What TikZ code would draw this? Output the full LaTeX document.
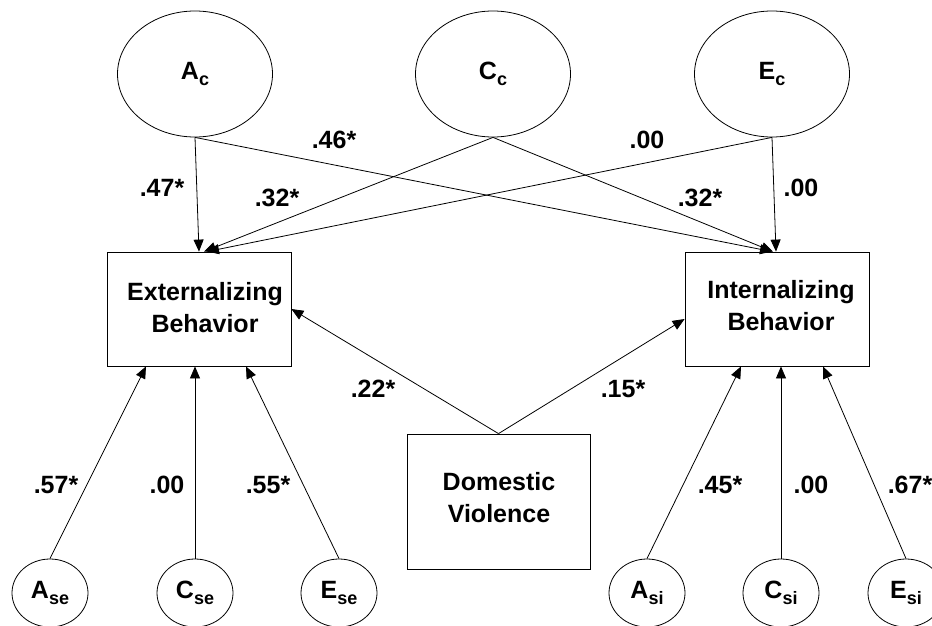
\documentclass[tikz,border=0pt]{standalone}
\usepackage{fontspec}
\setmainfont{Liberation Sans}
\usetikzlibrary{arrows.meta,shapes.geometric}
\newcommand{\lsub}[2]{#1{\fontsize{18}{18}\selectfont\raisebox{-6pt}{#2}}}
\tikzset{
  lat/.style={draw, ellipse, line width=0.8pt, inner sep=0pt, minimum width=155pt, minimum height=126pt, font=\fontsize{25}{25}\selectfont\bfseries},
  res/.style={draw, ellipse, line width=0.8pt, inner sep=0pt, minimum width=76pt, minimum height=68pt, font=\fontsize{25}{25}\selectfont\bfseries},
  obs/.style={draw, rectangle, line width=0.8pt, inner sep=0pt},
  boxtext/.style={inner sep=0pt, align=center, font=\fontsize{25}{32}\selectfont\bfseries},
  path/.style={draw, line width=0.8pt, -{Triangle[length=12pt,width=10pt]}},
  lbl/.style={font=\fontsize{25}{25}\selectfont\bfseries, inner sep=0pt}
}
\begin{document}
\begin{tikzpicture}[x=1pt,y=-1pt]
\useasboundingbox (0,0) rectangle (932,626);
\node[lat] (Ac) at (195,74) {\lsub{A}{c}};
\node[lat] (Cc) at (493,74) {\lsub{C}{c}};
\node[lat] (Ec) at (772,74) {\lsub{E}{c}};
\node[obs, minimum width=184pt, minimum height=114pt] (ext) at (199,309) {};
\node[boxtext] (extt) at (205,308) {Externalizing\\Behavior};
\node[obs, minimum width=184pt, minimum height=114pt] (int) at (777,309) {};
\node[boxtext] (intt) at (781,306) {Internalizing\\Behavior};
\node[obs, minimum width=183pt, minimum height=135pt] (dv) at (498.5,501.5) {};
\node[boxtext] (dvt) at (499,498) {Domestic\\Violence};
\node[res] (ase) at (50,593) {\lsub{A}{se}};
\node[res] (cse) at (195,593) {\lsub{C}{se}};
\node[res] (ese) at (339,593) {\lsub{E}{se}};
\node[res] (asi) at (647,593) {\lsub{A}{si}};
\node[res] (csi) at (781,593) {\lsub{C}{si}};
\node[res] (esi) at (906,593) {\lsub{E}{si}};
% top paths
\path[path] (Ac.south) -- (ext.north);
\path[path] (Cc.south) -- ([xshift=5pt]ext.north);
\path[path] (Ec.south) -- ([xshift=8pt]ext.north);
\path[path] (Ac.south) -- ([xshift=-5pt]int.north);
\path[path] (Cc.south) -- ([xshift=-4pt]int.north);
\path[path] (Ec.south) -- ([xshift=-1pt]int.north);
% domestic violence
\path[path] (dv.north) -- (ext.east);
\path[path] (dv.north) -- ([yshift=-10pt]int.west);
% bottom paths
\path[path] (ase.north) -- ([xshift=-53pt]ext.south);
\path[path] (cse.north) -- ([xshift=-4pt]ext.south);
\path[path] (ese.north) -- ([xshift=47pt]ext.south);
\path[path] (asi.north) -- ([xshift=-36pt]int.south);
\path[path] (csi.north) -- ([xshift=4pt]int.south);
\path[path] (esi.north) -- ([xshift=46pt]int.south);
% labels
\node[lbl] (l1) at (334,140) {.46*};
\node[lbl] (l2) at (162,188) {.47*};
\node[lbl] (l3) at (277,198) {.32*};
\node[lbl] (l4) at (647,140) {.00};
\node[lbl] (l5) at (700,198) {.32*};
\node[lbl] (l6) at (801,188) {.00};
\node[lbl] (l7) at (373,389) {.22*};
\node[lbl] (l8) at (623,389) {.15*};
\node[lbl] (l9) at (56,485) {.57*};
\node[lbl] (l10) at (167,485) {.00};
\node[lbl] (l11) at (268,485) {.55*};
\node[lbl] (l12) at (720,485) {.45*};
\node[lbl] (l13) at (811,485) {.00};
\node[lbl] (l14) at (910,485) {.67*};
\end{tikzpicture}
\end{document}
